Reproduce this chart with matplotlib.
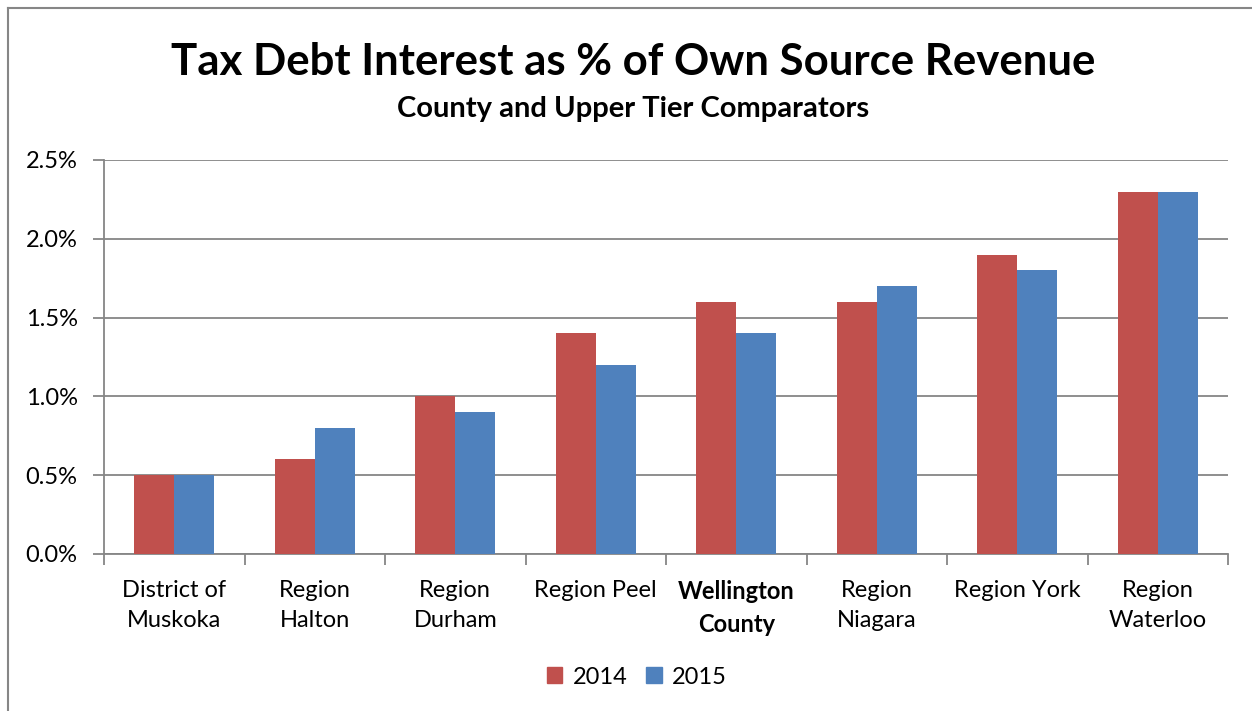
import numpy as np
import matplotlib.pyplot as plt
from matplotlib.lines import Line2D
from matplotlib.patches import Patch
from matplotlib.transforms import blended_transform_factory

categories = ["District of\nMuskoka", "Region\nHalton", "Region\nDurham", "Region Peel",
              "Wellington\nCounty", "Region\nNiagara", "Region York", "Region\nWaterloo"]
vals_2014 = [0.5, 0.6, 1.0, 1.4, 1.6, 1.6, 1.9, 2.3]
vals_2015 = [0.5, 0.8, 0.9, 1.2, 1.4, 1.7, 1.8, 2.3]
yticks = [0.0, 0.5, 1.0, 1.5, 2.0, 2.5]

red = "#C0504D"
blue = "#4F81BD"
grid = "#868686"

plt.rcParams['font.family'] = ['Lato', 'DejaVu Sans']

W, H = 1252, 711
fig = plt.figure(figsize=(W / 100, H / 100), dpi=100)
ax = fig.add_axes([104 / W, 1 - 554 / H, (1228 - 104) / W, (554 - 160) / H])

x = np.arange(len(categories))
bw = 0.285
ax.bar(x - bw / 2, vals_2014, bw, color=red, label="2014", zorder=3)
ax.bar(x + bw / 2, vals_2015, bw, color=blue, label="2015", zorder=3)

ax.set_xlim(-0.5, len(categories) - 0.5)
ax.set_ylim(0, 2.5)
ax.set_yticks(yticks)
ax.set_yticklabels(["{:.1f}%".format(v) for v in yticks], fontsize=17)
ax.yaxis.grid(True, color=grid, linewidth=1.3, zorder=0)
ax.tick_params(axis='y', length=8, width=1.3, color=grid, pad=11)

# category ticks sit between groups
ax.set_xticks(np.arange(len(categories) + 1) - 0.5)
ax.set_xticklabels([])
ax.tick_params(axis='x', length=8, width=1.3, color=grid)
trans = blended_transform_factory(ax.transData, fig.transFigure)
for i, c in enumerate(categories):
    ax.text(i, 1 - 580 / H, c, ha='center', va='top', fontsize=17,
            fontweight='bold' if c.startswith("Wellington") else 'normal',
            linespacing=1.55, transform=trans)

for s in ['top', 'right']:
    ax.spines[s].set_visible(False)
for s in ['left', 'bottom']:
    ax.spines[s].set_color(grid)
    ax.spines[s].set_linewidth(1.3)

fig.text(633 / W, 1 - 62 / H, "Tax Debt Interest as % of Own Source Revenue",
         ha='center', va='center', fontsize=31.5, fontweight='bold')
fig.text(633 / W, 1 - 109 / H, "County and Upper Tier Comparators",
         ha='center', va='center', fontsize=21, fontweight='bold')

handles = [Patch(color=red, label="2014"), Patch(color=blue, label="2015")]
fig.legend(handles=handles, loc='center', bbox_to_anchor=(637 / W, 1 - 677 / H),
           ncol=2, frameon=False, fontsize=17, handlelength=0.65, handleheight=0.65,
           columnspacing=0.8, handletextpad=0.45)

# outer chart border (left and top edges)
fig.add_artist(Line2D([8 / W, 8 / W], [0, 1 - 8 / H], color=grid, linewidth=1.5))
fig.add_artist(Line2D([8 / W, 1], [1 - 8 / H, 1 - 8 / H], color=grid, linewidth=1.5))

fig.savefig("out.png", dpi=100)
